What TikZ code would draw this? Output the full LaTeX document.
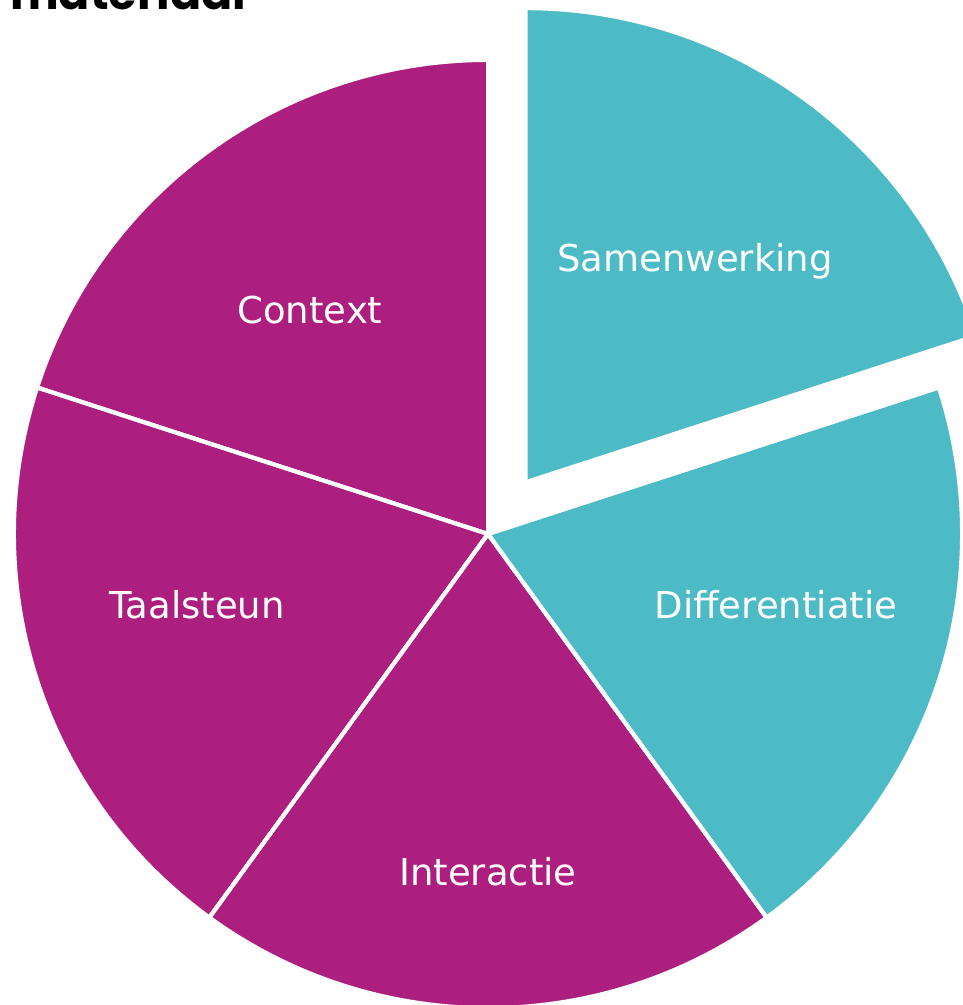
\documentclass[tikz,border=0pt]{standalone}
\usepackage{fontspec}
\setmainfont{DejaVu Sans}
\newfontfamily\titlefont{Poppins}
\usepackage{tikz}
\usetikzlibrary{calc}
\definecolor{pinkslice}{HTML}{AD1F7F}
\definecolor{tealslice}{HTML}{4DBBC5}

\begin{document}
\begin{tikzpicture}[x=1pt,y=1pt,
  slice/.style={draw=white,line width=4pt,line join=miter},
  label node/.style={text=white,font=\fontsize{37}{42}\selectfont,inner sep=0pt}]

  \useasboundingbox (0,0) rectangle (963,1005);
  \clip (0,0) rectangle (963,1005);

  \coordinate (C) at (488,471);
  \coordinate (Cx) at ($(C)+(54:64)$);

  % the five slices
  \fill[slice,fill=tealslice] (Cx) -- ++(18:474) arc[start angle=18,end angle=90,radius=474] -- cycle;
  \fill[slice,fill=pinkslice] (C) -- ++(90:474) arc[start angle=90,end angle=162,radius=474] -- cycle;
  \fill[slice,fill=pinkslice] (C) -- ++(162:474) arc[start angle=162,end angle=234,radius=474] -- cycle;
  \fill[slice,fill=pinkslice] (C) -- ++(234:474) arc[start angle=234,end angle=306,radius=474] -- cycle;
  \fill[slice,fill=tealslice] (C) -- ++(306:474) arc[start angle=306,end angle=378,radius=474] -- cycle;
  \draw[slice] (C) -- ++(90:474) (C) -- ++(162:474) (C) -- ++(234:474) (C) -- ++(306:474) (C) -- ++(18:474);

  \node[label node] (samen) at (695,744) {Samenwerking};
  \node[label node] (context) at (310,695) {Context};
  \node[label node] (taal) at (197,400) {Taalsteun};
  \node[label node] (inter) at (488,133) {Interactie};
  \node[label node] (diff) at (776,400) {Differentiatie};

  \node[anchor=base west,inner sep=0pt,font=\titlefont\bfseries\fontsize{46}{54}\selectfont] (title) at (10,995) {materiaal};
\end{tikzpicture}
\end{document}
